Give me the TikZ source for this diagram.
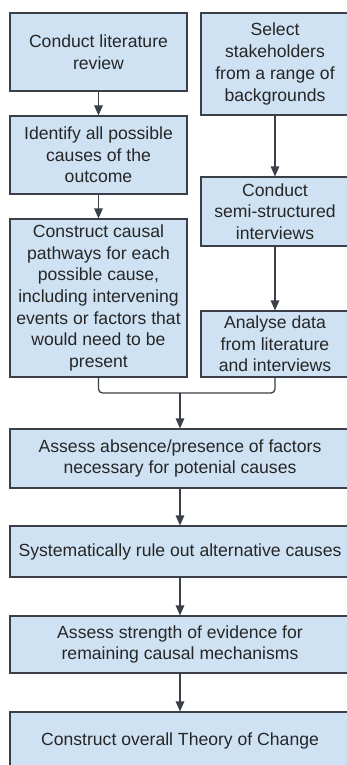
\documentclass[tikz,border=0pt]{standalone}
\usepackage{fontspec}
\setmainfont{Liberation Sans}
\usetikzlibrary{arrows.meta,calc}
\definecolor{boxfill}{HTML}{CFE2F3}
\definecolor{boxline}{HTML}{3B4048}
\tikzset{
  stepbox/.style={draw=boxline, fill=boxfill, line width=1.1pt, rectangle,
    align=center, inner sep=0pt,
    font=\fontsize{17.6}{21.7}\selectfont, text=black!85},
  flow/.style={draw=boxline, line width=1.3pt,
    -{Triangle[width=8.5pt,length=10pt]}},
  joinline/.style={draw=boxline, line width=1.3pt, rounded corners=4pt}
}
\begin{document}
\begin{tikzpicture}[x=1pt,y=-1pt]
  \useasboundingbox (0,0) rectangle (347,765);
  \clip (0,0) rectangle (347,765);
  % left column
  \node[stepbox, minimum width=177pt, minimum height=78pt] (lit) at (98.5,52)
    {Conduct literature\\review};
  \node[stepbox, minimum width=177pt, minimum height=78pt] (ident) at (98.5,155)
    {Identify all possible\\causes of the\\outcome};
  \node[stepbox, minimum width=177pt, minimum height=158pt] (path) at (98.5,298)
    {Construct causal\\pathways for each\\possible cause,\\including intervening\\events or factors that\\would need to be\\present};
  % right column
  \node[stepbox, minimum width=148pt, minimum height=102pt] (select) at (275,64)
    {Select\\stakeholders\\from a range of\\backgrounds};
  \node[stepbox, minimum width=148pt, minimum height=69pt] (interv) at (275,211.5)
    {Conduct\\semi-structured\\interviews};
  \node[stepbox, minimum width=148pt, minimum height=66pt] (analyse) at (275,344)
    {Analyse data\\from literature\\and interviews};
  % full-width steps
  \node[stepbox, minimum width=340pt, minimum height=59pt] (absence) at (180,458.5)
    {Assess absence/presence of factors\\necessary for potenial causes};
  \node[stepbox, minimum width=340pt, minimum height=51pt] (ruleout) at (180,551.5)
    {Systematically rule out alternative causes};
  \node[stepbox, minimum width=340pt, minimum height=57pt] (strength) at (180,644.5)
    {Assess strength of evidence for\\remaining causal mechanisms};
  \node[stepbox, minimum width=340pt, minimum height=58pt] (overall) at (180,741)
    {Construct overall Theory of Change};
  % connectors
  \draw[flow] (lit) -- (ident);
  \draw[flow] (ident) -- (path);
  \draw[flow] (select) -- (interv);
  \draw[flow] (interv) -- (analyse);
  \coordinate (merge) at (180,393);
  \draw[joinline] (path.south) |- (merge) -| (analyse.south);
  \draw[flow] (merge) -- (absence.north);
  \draw[flow] (absence) -- (ruleout);
  \draw[flow] (ruleout) -- (strength);
  \draw[flow] (strength) -- (overall);
\end{tikzpicture}
\end{document}
